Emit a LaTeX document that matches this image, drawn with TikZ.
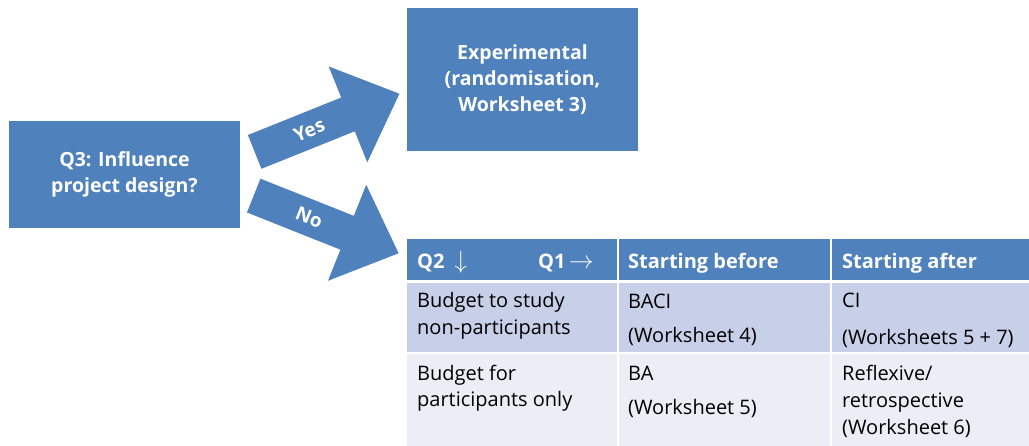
\documentclass[tikz,border=0pt]{standalone}
\usepackage{fontspec}
\setmainfont{Open Sans}
\usetikzlibrary{shapes.arrows,calc}
\definecolor{boxblue}{RGB}{79,129,189}
\definecolor{bandone}{RGB}{199,208,232}
\definecolor{bandtwo}{RGB}{236,238,246}
\tikzset{
  block/.style={rectangle, fill=boxblue, text=white, align=center, inner sep=0pt,
    font=\bfseries\fontsize{19.5}{26}\selectfont},
  bigarrow/.style={single arrow, fill=boxblue, inner sep=0pt,
    text height=12pt, text depth=3pt, inner ysep=10.5pt,
    single arrow head extend=33.5pt, single arrow tip angle=86,
    minimum height=156pt, minimum width=103pt},
  arrowlabel/.style={text=white, inner sep=0pt, font=\bfseries\fontsize{19}{20}\selectfont},
  cell/.style={rectangle, anchor=north west, inner sep=0pt},
  celltext/.style={anchor=base west, inner sep=0pt, align=left,
    font=\fontsize{20}{27}\selectfont},
  headtext/.style={anchor=base west, inner sep=0pt, text=white,
    font=\bfseries\fontsize{20}{27}\selectfont},
}
\newcommand{\bigsym}[1]{{\fontsize{28}{28}\selectfont$#1$}}
\begin{document}
\begin{tikzpicture}[x=1pt,y=-1pt]
\useasboundingbox (0,0) rectangle (1029,446);

% question and outcome
\node[block, minimum width=231pt, minimum height=107pt] (q3) at (124.5,174.5) {Q3: Influence\\project design?};
\node[block, minimum width=231pt, minimum height=143pt] (exp) at (522.5,79.5) {Experimental\\(randomisation,\\Worksheet 3)};

% yes / no arrows
\node[bigarrow, rotate=21.9, anchor=tail] (yes) at (254.5,152) {};
\node[bigarrow, rotate=-21.7, anchor=tail] (no) at (253.5,195.5) {};
\node[arrowlabel, rotate=21.9] (yeslabel) at ($(yes.tail)!59pt!(yes.tip)$) {Yes};
\node[arrowlabel, rotate=-21.7] (nolabel) at ($(no.tail)!60pt!(no.tip)$) {No};

% table cells
\node[cell, fill=boxblue, minimum width=210pt, minimum height=41pt] (h1) at (407,239) {};
\node[cell, fill=boxblue, minimum width=211pt, minimum height=41pt] (h2) at (619,239) {};
\node[cell, fill=boxblue, minimum width=197pt, minimum height=41pt] (h3) at (832,239) {};
\node[cell, fill=bandone, minimum width=210pt, minimum height=69pt] (a1) at (407,283) {};
\node[cell, fill=bandone, minimum width=211pt, minimum height=69pt] (a2) at (619,283) {};
\node[cell, fill=bandone, minimum width=197pt, minimum height=69pt] (a3) at (832,283) {};
\node[cell, fill=bandtwo, minimum width=210pt, minimum height=92pt] (b1) at (407,354) {};
\node[cell, fill=bandtwo, minimum width=211pt, minimum height=92pt] (b2) at (619,354) {};
\node[cell, fill=bandtwo, minimum width=197pt, minimum height=92pt] (b3) at (832,354) {};

% header text
\node[headtext] (q2) at (417,269) {Q2\enspace\bigsym{\downarrow}};
\node[headtext] (q1) at (538,269) {Q1\,\bigsym{\rightarrow}};
\node[headtext] (before) at (628,269) {Starting before};
\node[headtext] (after) at (842,269) {Starting after};

% body text, anchored at the last baseline
\node[celltext] (t11) at (417,335) {Budget to study\\non-participants};
\node[celltext] (t12) at (628,343) {BACI\\[7pt](Worksheet 4)};
\node[celltext] (t13) at (842,345) {CI\\[10pt](Worksheets 5 + 7)};
\node[celltext] (t21) at (417,407) {Budget for\\participants only};
\node[celltext] (t22) at (628,415) {BA\\[8pt](Worksheet 5)};
\node[celltext] (t23) at (842,435) {Reflexive/\\retrospective\\(Worksheet 6)};
\end{tikzpicture}
\end{document}
